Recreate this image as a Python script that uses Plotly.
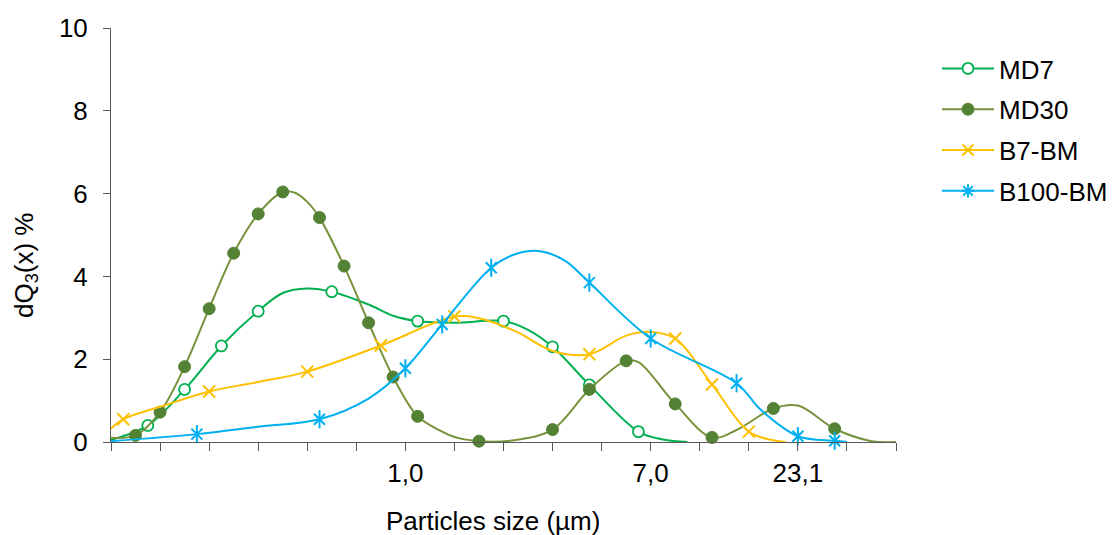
import plotly.graph_objects as go

# ---- x categories: 65 size classes (index 0..64), tick mark every 4th class ----
n_classes = 65
minor_tick_step = 4
label_classes = [24, 44, 56]
label_texts = ["1,0", "7,0", "23,1"]

# ---- series (class index, dQ3 %) ; *_marked = classes that carry a marker ----
md7_k = [0, 3, 6, 9, 12, 14, 16, 18, 21, 23, 25, 28, 32, 34, 36, 39, 43, 45, 47]
md7_v = [0.05, 0.40, 1.27, 2.32, 3.16, 3.60, 3.71, 3.63, 3.32, 3.05, 2.92, 2.88, 2.92, 2.71, 2.30, 1.38, 0.25, 0.06, 0.0]
md7_marked = [3, 6, 9, 12, 18, 25, 32, 36, 39, 43]

md30_k = [0, 2, 4, 6, 8, 10, 12, 14, 15, 16, 17, 19, 21, 23, 25, 27, 28, 30, 33, 36, 39, 42, 43, 46, 49, 51, 54, 56, 59, 62, 64]
md30_v = [0.10, 0.16, 0.72, 1.82, 3.22, 4.56, 5.51, 6.04, 6.02, 5.80, 5.42, 4.25, 2.88, 1.57, 0.62, 0.25, 0.12, 0.02, 0.05, 0.30, 1.27, 1.96, 1.93, 0.92, 0.11, 0.29, 0.81, 0.88, 0.32, 0.02, 0.0]
md30_marked = [2, 4, 6, 8, 10, 12, 14, 17, 19, 21, 23, 25, 30, 36, 39, 42, 46, 49, 54, 59]

b7_k = [0, 1, 4, 8, 12, 16, 22, 28, 30, 33, 36, 39, 42, 44, 46, 49, 52, 54, 55]
b7_v = [0.32, 0.55, 0.85, 1.22, 1.45, 1.70, 2.33, 3.03, 2.99, 2.67, 2.20, 2.12, 2.57, 2.66, 2.50, 1.39, 0.25, 0.04, 0.0]
b7_marked = [1, 8, 16, 22, 28, 39, 46, 49, 52]

b100_k = [0, 7, 12, 17, 21, 24, 27, 31, 33, 35, 37, 39, 44, 51, 53, 56, 59, 60]
b100_v = [0.02, 0.19, 0.37, 0.55, 1.05, 1.78, 2.84, 4.21, 4.54, 4.61, 4.38, 3.85, 2.50, 1.42, 0.77, 0.14, 0.03, 0.0]
b100_marked = [7, 17, 24, 27, 31, 39, 44, 51, 56, 59]

FONT = "Arial, Liberation Sans, sans-serif"
C_MD7 = "#00B050"
C_MD30_LINE = "#77933C"
C_MD30_MK = "#548235"
C_B7 = "#FFC000"
C_B100 = "#00B0F0"

fig = go.Figure()


def subset(ks, vs, marked):
    d = dict(zip(ks, vs))
    return marked, [d[k] for k in marked]


def add_series(name, ks, vs, marked, line_color, markers, legend_marker):
    fig.add_trace(go.Scatter(x=ks, y=vs, mode="lines", showlegend=False,
                             line=dict(color=line_color, width=2, shape="spline", smoothing=1),
                             hoverinfo="skip"))
    mx, my = subset(ks, vs, marked)
    for mk in markers:
        fig.add_trace(go.Scatter(x=mx, y=my, mode="markers", showlegend=False,
                                 marker=mk, cliponaxis=False, name=name))
    fig.add_trace(go.Scatter(x=[None], y=[None], mode="lines+markers", name=name,
                             legendgroup=name,
                             line=dict(color=line_color, width=2),
                             marker=legend_marker))


add_series("MD7", md7_k, md7_v, md7_marked, C_MD7,
           [dict(symbol="circle", size=11, color="white", line=dict(color=C_MD7, width=1.8))],
           dict(symbol="circle", size=11, color="white", line=dict(color=C_MD7, width=1.8)))
add_series("MD30", md30_k, md30_v, md30_marked, C_MD30_LINE,
           [dict(symbol="circle", size=12, color=C_MD30_MK, line=dict(color=C_MD30_MK, width=1))],
           dict(symbol="circle", size=12, color=C_MD30_MK, line=dict(color=C_MD30_MK, width=1)))
add_series("B7-BM", b7_k, b7_v, b7_marked, C_B7,
           [dict(symbol="x-thin-open", size=12, color=C_B7, line=dict(color=C_B7, width=2))],
           dict(symbol="x-thin-open", size=11, color=C_B7, line=dict(color=C_B7, width=2)))
add_series("B100-BM", b100_k, b100_v, b100_marked, C_B100,
           [dict(symbol="x-thin-open", size=11, color=C_B100, line=dict(color=C_B100, width=2)),
            dict(symbol="line-ns-open", size=13, color=C_B100, line=dict(color=C_B100, width=2))],
           dict(symbol="asterisk-open", size=11, color=C_B100, line=dict(color=C_B100, width=2)))

AX = "#595959"
fig.update_xaxes(range=[0, n_classes - 1], tickmode="array", tickvals=label_classes, ticktext=label_texts,
                 showline=True, linecolor=AX, linewidth=1, ticks="outside", ticklen=8,
                 tickcolor=AX, showgrid=False, zeroline=False, ticklabelstandoff=0,
                 minor=dict(tick0=0, dtick=minor_tick_step, ticks="outside", ticklen=8,
                            tickcolor=AX, showgrid=False),
                 tickfont=dict(family=FONT, size=26, color="#000000"))
fig.update_yaxes(range=[0, 10], tickmode="array", tickvals=[0, 2, 4, 6, 8, 10],
                 showline=True, linecolor=AX, linewidth=1, ticks="outside", ticklen=7,
                 tickcolor=AX, showgrid=False, zeroline=False, ticklabelstandoff=10,
                 tickfont=dict(family=FONT, size=26, color="#000000"))

W, H = 1112, 535
L, R, T, B = 111, 216, 28, 93
pw, ph = W - L - R, H - T - B


def px(xp):
    return (xp - L) / pw


def py(yp):
    return (H - B - yp) / ph


fig.add_annotation(text="dQ<sub>3</sub>(x) %", xref="paper", yref="paper",
                   x=px(25), y=py(266), xanchor="center", yanchor="middle",
                   textangle=-90, showarrow=False,
                   font=dict(family=FONT, size=26, color="#000000"))
fig.add_annotation(text="Particles size (µm)", xref="paper", yref="paper",
                   x=px(493), y=py(521), xanchor="center", yanchor="middle",
                   showarrow=False, font=dict(family=FONT, size=26, color="#000000"))

fig.update_layout(
    width=W, height=H,
    margin=dict(l=L, r=R, t=T, b=B, pad=0, autoexpand=False),
    paper_bgcolor="white", plot_bgcolor="white",
    legend=dict(x=px(937), y=py(45), xanchor="left", yanchor="top",
                font=dict(family=FONT, size=26, color="#000000"),
                traceorder="grouped", tracegroupgap=4, itemwidth=52,
                bgcolor="rgba(0,0,0,0)"),
    font=dict(family=FONT),
)

fig.write_html("out.html")
